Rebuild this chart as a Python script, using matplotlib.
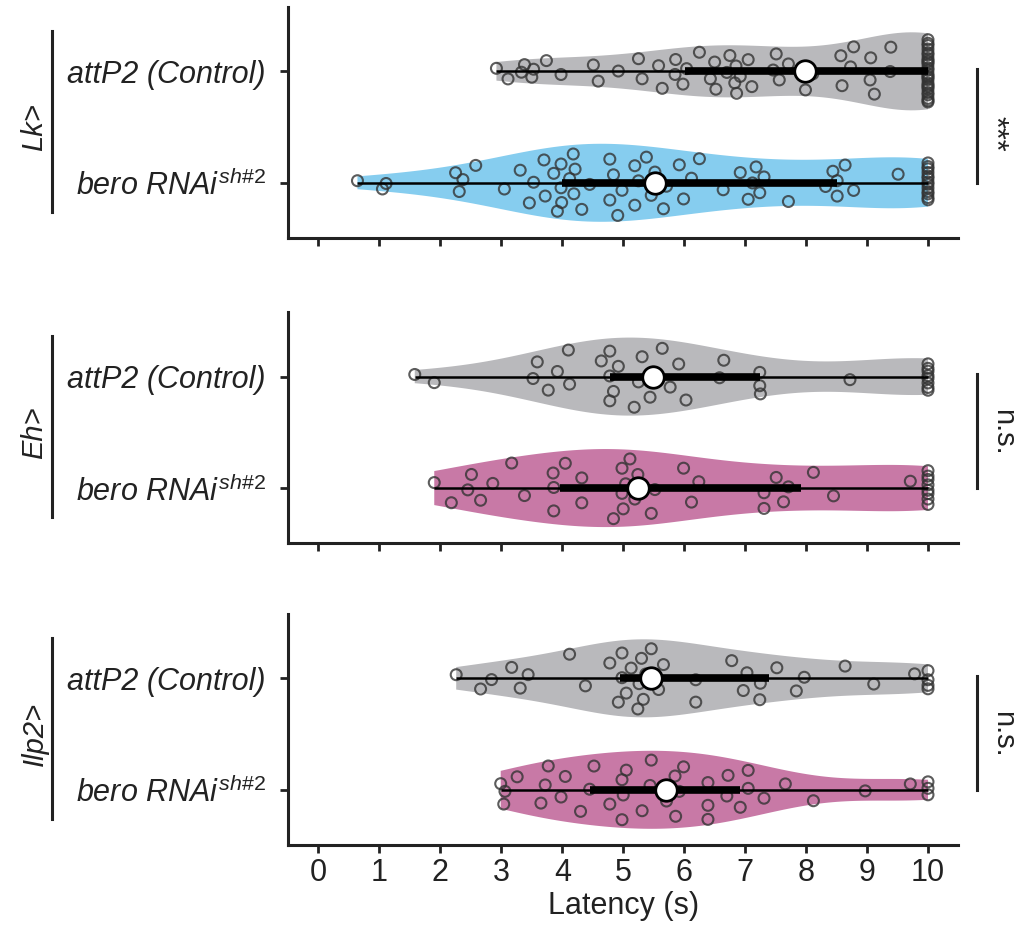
import numpy as np
import matplotlib
matplotlib.use("Agg")
import matplotlib.pyplot as plt
import matplotlib.transforms as mtransforms
from matplotlib.mlab import GaussianKDE

plt.rcParams['font.family'] = 'Liberation Sans'
plt.rcParams['mathtext.fontset'] = 'custom'
plt.rcParams['mathtext.it'] = 'Liberation Sans:italic'
plt.rcParams['mathtext.rm'] = 'Liberation Sans'

# latency (s) per fly, capped at 10 s
lk_ctrl = [2.92, 3.11, 3.33, 3.38, 3.50, 3.53, 3.74, 3.98, 4.51, 4.59, 4.92, 5.25,
           5.31, 5.58, 5.64, 5.85, 5.86, 5.98, 6.04, 6.25, 6.43, 6.50, 6.52, 6.70,
           6.75, 6.83, 6.85, 6.86, 6.92, 7.05, 7.11, 7.46, 7.51, 7.56, 7.71, 7.99,
           8.11, 8.57, 8.59, 8.73, 8.78, 9.05, 9.06, 9.12, 9.38, 9.39,
           10, 10, 10, 10, 10, 10, 10, 10, 10, 10, 10, 10, 10, 10, 10, 10, 10, 10,
           10, 10, 10, 10, 10, 10, 10]
lk_rnai = [0.64, 1.05, 1.11, 2.25, 2.31, 2.37, 2.58, 3.05, 3.31, 3.46, 3.53, 3.70,
           3.72, 3.86, 3.92, 3.98, 3.98, 3.99, 4.12, 4.18, 4.19, 4.21, 4.32, 4.45,
           4.78, 4.78, 4.84, 4.91, 4.98, 5.19, 5.19, 5.25, 5.38, 5.46, 5.52, 5.66,
           5.71, 5.92, 5.99, 6.12, 6.25, 6.64, 6.92, 7.05, 7.12, 7.18, 7.24, 7.31,
           7.71, 8.32, 8.44, 8.51, 8.51, 8.64, 8.78, 9.51,
           10, 10, 10, 10, 10, 10, 10, 10, 10, 10, 10, 10, 10]
eh_ctrl = [1.58, 1.90, 3.52, 3.59, 3.77, 3.92, 4.10, 4.12, 4.64, 4.78, 4.78, 4.78,
           4.84, 4.92, 5.18, 5.25, 5.31, 5.44, 5.49, 5.64, 5.77, 5.91, 6.03, 6.58,
           6.65, 7.24, 7.24, 7.25, 8.72,
           10, 10, 10, 10, 10, 10, 10, 10]
eh_rnai = [1.90, 2.18, 2.45, 2.51, 2.66, 2.86, 3.17, 3.38, 3.85, 3.86, 3.86, 4.05,
           4.32, 4.32, 4.84, 4.98, 4.98, 5.00, 5.04, 5.11, 5.19, 5.24, 5.46, 5.52,
           5.99, 6.12, 6.24, 7.31, 7.31, 7.51, 7.63, 7.71, 8.12, 8.45, 9.71,
           10, 10, 10, 10, 10, 10, 10, 10]
ilp_ctrl = [2.26, 2.66, 2.84, 3.17, 3.31, 3.44, 4.12, 4.38, 4.78, 4.92, 4.98, 4.98,
            5.05, 5.13, 5.24, 5.26, 5.30, 5.33, 5.37, 5.46, 5.58, 5.66, 6.19, 6.19,
            6.78, 6.97, 7.03, 7.24, 7.25, 7.52, 7.84, 7.97, 8.64, 9.11, 9.78,
            10, 10, 10, 10]
ilp_rnai = [2.99, 3.04, 3.06, 3.26, 3.65, 3.72, 3.77, 3.98, 4.05, 4.30, 4.45, 4.52,
            4.78, 4.98, 4.98, 5.00, 5.05, 5.31, 5.44, 5.46, 5.71, 5.85, 5.86, 5.92,
            5.99, 6.39, 6.39, 6.39, 6.70, 6.72, 6.92, 7.05, 7.05, 7.31, 7.66, 8.12,
            8.97, 9.71,
            10, 10, 10]

drivers = ['Lk>', 'Eh>', 'Ilp2>']
genotypes = ['attP2 (Control)', r'$\mathit{bero\ RNAi}^{\mathit{sh\#2}}$']
panels = [(lk_ctrl, lk_rnai), (eh_ctrl, eh_rnai), (ilp_ctrl, ilp_rnai)]
stars = ['***', 'n.s.', 'n.s.']

GREY = '#b9b9bc'
rnai_colors = ['#86cdef', '#c879a6', '#c879a6']
INK = '#222222'
W = 0.7

fig = plt.figure(figsize=(10.19, 9.35), dpi=100)
bottoms = [0.7455, 0.419, 0.0963]

for i, (groups, drv, star) in enumerate(zip(panels, drivers, stars)):
    ax = fig.add_axes([0.2826, bottoms[i], 0.658, 0.247])
    data = [np.asarray(g, float) for g in groups]
    vp = ax.violinplot(data, positions=[0, 1], orientation='horizontal', widths=W,
                       showextrema=False)
    for body, col in zip(vp['bodies'], [GREY, rnai_colors[i]]):
        body.set_facecolor(col)
        body.set_edgecolor('none')
        body.set_alpha(1)
        body.set_zorder(1)

    for pos, d in enumerate(data):
        # spread points vertically inside the violin outline
        kde = GaussianKDE(d, 'scott')
        grid = np.linspace(d.min(), d.max(), 200)
        half = 0.5 * W * kde.evaluate(d) / kde.evaluate(grid).max()
        frac = (np.arange(len(d)) * 0.6180339887 + 0.31) % 1.0
        yy = pos + (frac * 2 - 1) * half * 0.85
        ax.scatter(d, yy, s=62, facecolors='none', edgecolors='#333333',
                   linewidths=1.5, alpha=0.8, zorder=3)

        q1, med, q3 = np.percentile(d, [25, 50, 75])
        ax.hlines(pos, d.min(), d.max(), color='black', lw=1.8, zorder=4)
        ax.hlines(pos, q1, q3, color='black', lw=5.5, zorder=4)
        ax.scatter([med], [pos], s=240, c='white', edgecolors='black',
                   linewidths=2, zorder=5)

    ax.set_xlim(-0.5, 10.5)
    ax.set_ylim(1.495, -0.577)
    ax.set_xticks(range(0, 11))
    ax.set_yticks([0, 1])
    ax.set_yticklabels(genotypes, fontsize=22, style='italic', color=INK)
    ax.tick_params(axis='both', length=6, width=2, color=INK, labelsize=22,
                   labelcolor=INK)
    ax.tick_params(axis='y', pad=10)
    if i < 2:
        ax.tick_params(axis='x', labelbottom=False)
    else:
        ax.set_xlabel('Latency (s)', fontsize=22, color=INK, labelpad=2)
    for s in ['top', 'right']:
        ax.spines[s].set_visible(False)
    for s in ['left', 'bottom']:
        ax.spines[s].set_linewidth(2.2)
        ax.spines[s].set_color(INK)

    trans = mtransforms.blended_transform_factory(ax.transAxes, ax.transData)
    # driver bracket on the left
    ax.plot([-0.352, -0.352], [-0.36, 1.26], transform=trans, clip_on=False,
            color=INK, lw=2.2)
    ax.text(-0.378, 0.5, drv, transform=trans, rotation=90, ha='center',
            va='center', fontsize=21, style='italic', color=INK)
    # significance bar on the right
    ax.plot([1.028, 1.028], [-0.02, 1.0], transform=trans, clip_on=False,
            color=INK, lw=2.2)
    if star == '***':
        ax.text(1.052, 0.56, star, transform=trans, rotation=-90, ha='center',
                va='center', fontsize=22, color=INK)
    else:
        ax.text(1.066, 0.5, star, transform=trans, rotation=-90, ha='center',
                va='center', fontsize=21, color=INK)

fig.savefig('out.png', dpi=100)
